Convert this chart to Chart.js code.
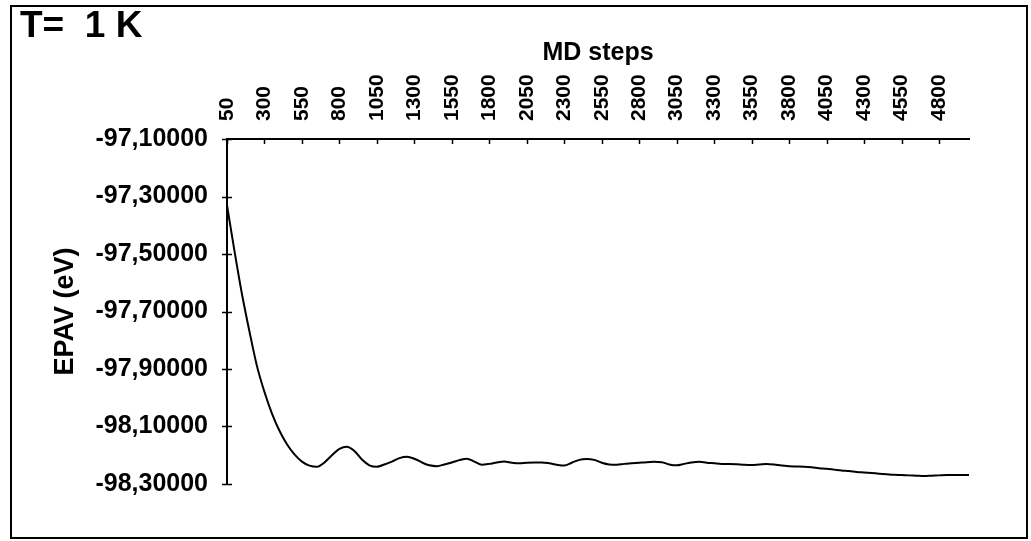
<!DOCTYPE html>
<html>
<head>
<meta charset="utf-8">
<script src="https://cdn.jsdelivr.net/npm/chart.js@4.4.0/dist/chart.umd.min.js"></script>
<style>
  html, body { margin: 0; padding: 0; background: #fff; }
</style>
</head>
<body>
<canvas id="myChart" width="1031" height="541"></canvas>
<script>
// MD steps (every 50 steps)
const steps = [50, 100, 150, 200, 250, 300, 350, 400, 450, 500,
  550, 600, 650, 700, 750, 800, 850, 900, 950, 1000,
  1050, 1100, 1150, 1200, 1250, 1300, 1350, 1400, 1450, 1500,
  1550, 1600, 1650, 1700, 1750, 1800, 1850, 1900, 1950, 2000,
  2050, 2100, 2150, 2200, 2250, 2300, 2350, 2400, 2450, 2500,
  2550, 2600, 2650, 2700, 2750, 2800, 2850, 2900, 2950, 3000,
  3050, 3100, 3150, 3200, 3250, 3300, 3350, 3400, 3450, 3500,
  3550, 3600, 3650, 3700, 3750, 3800, 3850, 3900, 3950, 4000,
  4050, 4100, 4150, 4200, 4250, 4300, 4350, 4400, 4450, 4500,
  4550, 4600, 4650, 4700, 4750, 4800, 4850, 4900, 4950, 5000];

// EPAV (eV)
const epav = [-97.330, -97.490, -97.640, -97.770, -97.890, -97.980, -98.055, -98.115, -98.162, -98.197,
  -98.222, -98.236, -98.240, -98.225, -98.200, -98.178, -98.170, -98.185, -98.215, -98.235,
  -98.240, -98.232, -98.222, -98.210, -98.205, -98.212, -98.225, -98.235, -98.238, -98.232,
  -98.225, -98.217, -98.212, -98.222, -98.233, -98.230, -98.225, -98.222, -98.226, -98.228,
  -98.226, -98.225, -98.225, -98.228, -98.233, -98.236, -98.226, -98.216, -98.213, -98.216,
  -98.226, -98.232, -98.233, -98.230, -98.228, -98.226, -98.224, -98.223, -98.224, -98.232,
  -98.235, -98.230, -98.225, -98.223, -98.226, -98.228, -98.230, -98.230, -98.231, -98.233,
  -98.234, -98.232, -98.230, -98.232, -98.236, -98.238, -98.239, -98.240, -98.242, -98.245,
  -98.247, -98.250, -98.253, -98.255, -98.258, -98.260, -98.262, -98.264, -98.266, -98.268,
  -98.269, -98.270, -98.271, -98.272, -98.271, -98.270, -98.269, -98.269, -98.269, -98.269];

// tick labels
const xTickValues = [50, 300, 550, 800, 1050, 1300, 1550, 1800, 2050, 2300,
  2550, 2800, 3050, 3300, 3550, 3800, 4050, 4300, 4550, 4800];
const yTickValues = [-97.1, -97.3, -97.5, -97.7, -97.9, -98.1, -98.3];

const FONT = "'Liberation Sans', Arial, sans-serif";
const X_TICK_SIZE = 21;

// fond blanc + cadre + titre "T= 1 K" + petites graduations
const decor = {
  id: 'decor',
  beforeDraw(chart) {
    const ctx = chart.ctx;
    ctx.save();
    ctx.fillStyle = '#fff';
    ctx.fillRect(0, 0, chart.width, chart.height);
    ctx.restore();
  },
  afterDraw(chart) {
    const ctx = chart.ctx;
    const x = chart.scales.x;
    const y = chart.scales.y;
    const area = chart.chartArea;
    ctx.save();
    ctx.strokeStyle = '#000';
    ctx.lineWidth = 2;
    ctx.strokeRect(11, 6, 1016, 532);

    // graduations x : vers l'intérieur
    ctx.lineWidth = 1.5;
    ctx.beginPath();
    for (const v of xTickValues) {
      const px = Math.round(x.getPixelForValue(v)) + 0.5;
      ctx.moveTo(px, area.top);
      ctx.lineTo(px, area.top + 5);
    }
    // graduations y : en croix
    for (const v of yTickValues) {
      const py = Math.round(y.getPixelForValue(v)) + 0.5;
      ctx.moveTo(area.left - 5, py);
      ctx.lineTo(area.left + 5, py);
    }
    ctx.stroke();

    ctx.fillStyle = '#000';
    ctx.font = 'bold 37px ' + FONT;
    ctx.textBaseline = 'alphabetic';
    ctx.textAlign = 'left';
    ctx.fillText('T=  1 K', 20, 37);
    ctx.restore();
  }
};

const ctx = document.getElementById('myChart');
new Chart(ctx, {
  type: 'line',
  data: {
    datasets: [{
      data: steps.map((s, i) => ({ x: s, y: epav[i] })),
      borderColor: '#000',
      borderWidth: 2,
      pointRadius: 0,
      cubicInterpolationMode: 'monotone',
      fill: false
    }]
  },
  options: {
    responsive: false,
    animation: false,
    devicePixelRatio: 1,
    layout: { padding: { left: 12, top: 30, right: 62, bottom: 57 } },
    plugins: {
      legend: { display: false },
      title: { display: false },
      tooltip: { enabled: false }
    },
    scales: {
      x: {
        type: 'linear',
        position: 'top',
        min: 50,
        max: 5000,
        afterBuildTicks: (scale) => {
          scale.ticks = xTickValues.map(v => ({ value: v }));
        },
        afterFit: (scale) => { scale.height = 109; },
        ticks: {
          autoSkip: false,
          minRotation: 90,
          maxRotation: 90,
          padding: 18,
          labelOffset: X_TICK_SIZE * 1.2,
          color: '#000',
          font: { family: FONT, size: X_TICK_SIZE, weight: 'bold' },
          callback: (v) => String(v)
        },
        grid: { display: false, drawTicks: false },
        border: { display: true, color: '#000', width: 2 },
        title: {
          display: true,
          text: 'MD steps',
          color: '#000',
          padding: { top: 8, bottom: 0 },
          font: { family: FONT, size: 25, weight: 'bold' }
        }
      },
      y: {
        min: -98.3,
        max: -97.1,
        afterBuildTicks: (scale) => {
          scale.ticks = yTickValues.map(v => ({ value: v }));
        },
        afterFit: (scale) => { scale.width = 215; },
        ticks: {
          padding: 19,
          color: '#000',
          font: { family: FONT, size: 25, weight: 'bold' },
          callback: (v) => v.toFixed(5).replace('.', ',')
        },
        grid: { display: false, drawTicks: false },
        border: { display: true, color: '#000', width: 2 },
        title: {
          display: true,
          text: 'EPAV (eV)',
          color: '#000',
          padding: { top: 37, bottom: 0 },
          font: { family: FONT, size: 27, weight: 'bold' }
        }
      }
    }
  },
  plugins: [decor]
});
</script>
</body>
</html>
